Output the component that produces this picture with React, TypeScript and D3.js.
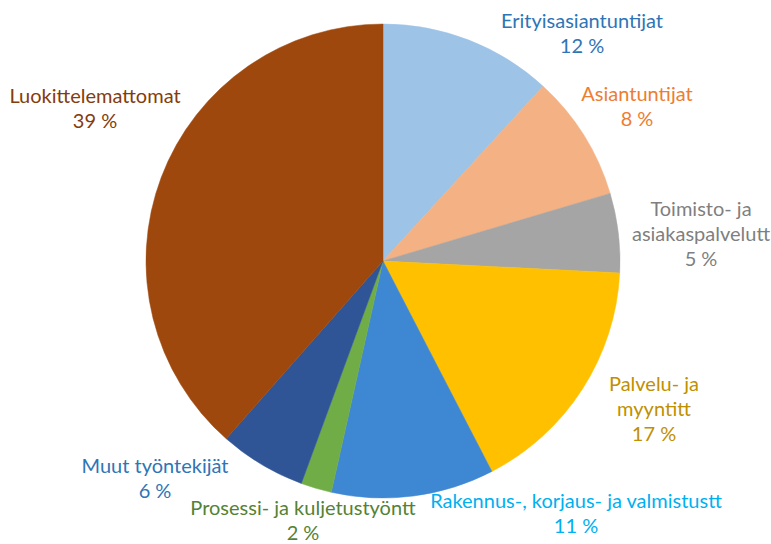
import React from "react";
import * as d3 from "d3";

const categories = [
  "Erityisasiantuntijat",
  "Asiantuntijat",
  "Toimisto- ja asiakaspalvelutt",
  "Palvelu- ja myyntitt",
  "Rakennus-, korjaus- ja valmistustt",
  "Prosessi- ja kuljetustyöntt",
  "Muut työntekijät",
  "Luokittelemattomat",
];
const values = [11.8, 8.6, 5.4, 16.6, 11.1, 2.1, 5.9, 38.5];
const percentLabels = ["12 %", "8 %", "5 %", "17 %", "11 %", "2 %", "6 %", "39 %"];
const labelLines = [
  ["Erityisasiantuntijat"],
  ["Asiantuntijat"],
  ["Toimisto- ja", "asiakaspalvelutt"],
  ["Palvelu- ja", "myyntitt"],
  ["Rakennus-, korjaus- ja valmistustt"],
  ["Prosessi- ja kuljetustyöntt"],
  ["Muut työntekijät"],
  ["Luokittelemattomat"],
];
const sliceColors = ["#9DC3E6", "#F4B183", "#A5A5A5", "#FFC000", "#3E87D3", "#70AD47", "#2F5597", "#9E480E"];
const textColors = ["#2E75B6", "#ED7D31", "#7F7F7F", "#BF9000", "#00B0F0", "#548235", "#2E75B6", "#843C0C"];
const labelPos: [number, number][] = [
  [582, 28],
  [637, 101],
  [701, 216],
  [654, 391],
  [576, 508],
  [303, 515],
  [155, 473],
  [95, 103],
];

export default function App() {
  const W = 771, H = 544;
  const cx = 383, cy = 261, r = 237;
  const pie = d3.pie<number>().sort(null).value((d) => d);
  const arcs = pie(values);
  const arc = d3.arc<d3.PieArcDatum<number>>().innerRadius(0).outerRadius(r);
  const lh = 25;
  return (
    <svg width={W} height={H} style={{ position: "absolute", left: 0, top: 0 }}>
      <rect width={W} height={H} fill="#fff" />
      <g transform={`translate(${cx},${cy})`}>
        {arcs.map((a, i) => (
          <path key={categories[i]} d={arc(a) || ""} fill={sliceColors[i]} stroke={sliceColors[i]} strokeWidth={0.5} />
        ))}
      </g>
      {labelLines.map((lines, i) => {
        const [x, y] = labelPos[i];
        const all = [...lines, percentLabels[i]];
        return (
          <text key={i} x={x} y={y} textAnchor="middle" fill={textColors[i]} fontFamily="Lato, 'Open Sans', sans-serif" fontSize={20}>
            {all.map((t, j) => (
              <tspan key={j} x={x} dy={j === 0 ? 0 : lh}>{t}</tspan>
            ))}
          </text>
        );
      })}
    </svg>
  );
}
